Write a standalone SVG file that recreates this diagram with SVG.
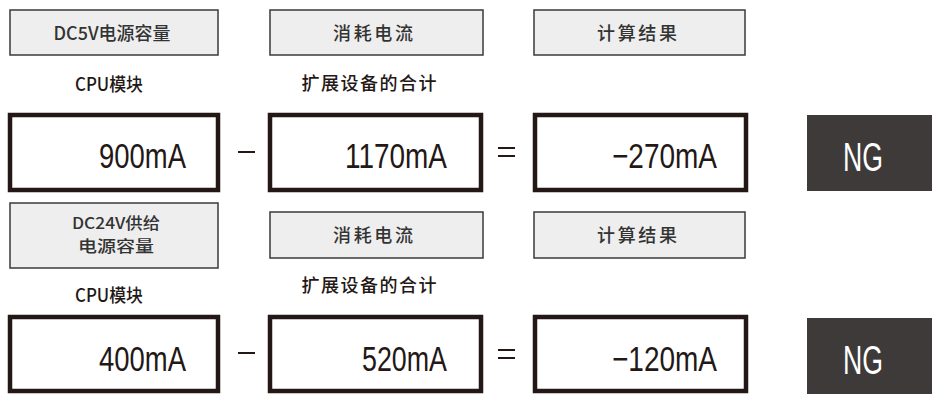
<svg xmlns="http://www.w3.org/2000/svg" width="932" height="394" viewBox="0 0 932 394">
<style>
.hdr{fill:#eeeeee;stroke:#3a3a3a;stroke-width:1.5}
.val{fill:#ffffff;stroke:#231815;stroke-width:4.5}
.ng{fill:#3e3a39}
.ht{font-family:"Noto Sans CJK SC",sans-serif;font-size:18px;fill:#333333;text-anchor:middle;font-weight:500}
.ht2{font-family:"Noto Sans CJK SC",sans-serif;font-size:16px;fill:#333333;text-anchor:middle;font-weight:500}
.lt{font-family:"Noto Sans CJK SC",sans-serif;font-size:18px;fill:#231815;text-anchor:middle;font-weight:500}
.vt{font-family:"Liberation Sans",sans-serif;font-size:35px;fill:#231815;text-anchor:end}
.nt{font-family:"Liberation Sans",sans-serif;font-size:40px;fill:#ffffff;text-anchor:middle}
.op{stroke:#231815;stroke-width:2;fill:none}
</style>
<rect width="932" height="394" fill="#ffffff"/>
<g id="row1">
<g id="h1"><rect class="hdr" x="10" y="10" width="208" height="45"/><text class="ht" x="112" y="40" textLength="117" lengthAdjust="spacingAndGlyphs">DC5V电源容量</text></g>
<g id="h2"><rect class="hdr" x="270" y="10" width="213" height="45"/><text class="ht" x="373" y="40" textLength="80" lengthAdjust="spacing">消耗电流</text></g>
<g id="h3"><rect class="hdr" x="534" y="10" width="211" height="45"/><text class="ht" x="637" y="40" textLength="80" lengthAdjust="spacing">计算结果</text></g>
<text class="lt" x="109" y="91" textLength="68" lengthAdjust="spacingAndGlyphs">CPU模块</text>
<text class="lt" x="369" y="90" textLength="135" lengthAdjust="spacing">扩展设备的合计</text>
<g id="v1"><rect class="val" x="10" y="115" width="208" height="75"/><text class="vt" x="186" y="168" textLength="87" lengthAdjust="spacingAndGlyphs">900mA</text></g>
<g id="v2"><rect class="val" x="270" y="115" width="211" height="75"/><text class="vt" x="447" y="168" textLength="102" lengthAdjust="spacingAndGlyphs">1170mA</text></g>
<g id="v3"><rect class="val" x="535" y="115" width="211" height="75"/><text class="vt" x="717" y="168" textLength="105" lengthAdjust="spacingAndGlyphs">−270mA</text></g>
<g id="ng1"><rect class="ng" x="807" y="115" width="125" height="76"/><text class="nt" x="863" y="171" textLength="40" lengthAdjust="spacingAndGlyphs">NG</text></g>
<path class="op" d="M238 152H255M498 148H515M498 156H515"/>
</g>
<g id="row2">
<g id="h4"><rect class="hdr" x="10" y="203" width="208" height="65"/><text class="ht2" x="116" y="229" textLength="88" lengthAdjust="spacingAndGlyphs">DC24V供给</text><text class="ht2" x="116" y="252" textLength="76" lengthAdjust="spacingAndGlyphs">电源容量</text></g>
<g id="h5"><rect class="hdr" x="270" y="212" width="213" height="46"/><text class="ht" x="373" y="242" textLength="80" lengthAdjust="spacing">消耗电流</text></g>
<g id="h6"><rect class="hdr" x="534" y="212" width="211" height="46"/><text class="ht" x="637" y="242" textLength="80" lengthAdjust="spacing">计算结果</text></g>
<text class="lt" x="109" y="302" textLength="68" lengthAdjust="spacingAndGlyphs">CPU模块</text>
<text class="lt" x="369" y="292" textLength="135" lengthAdjust="spacing">扩展设备的合计</text>
<g id="v4"><rect class="val" x="10" y="317" width="208" height="74"/><text class="vt" x="186" y="371" textLength="87" lengthAdjust="spacingAndGlyphs">400mA</text></g>
<g id="v5"><rect class="val" x="270" y="317" width="211" height="74"/><text class="vt" x="447" y="371" textLength="85" lengthAdjust="spacingAndGlyphs">520mA</text></g>
<g id="v6"><rect class="val" x="535" y="317" width="211" height="74"/><text class="vt" x="717" y="371" textLength="105" lengthAdjust="spacingAndGlyphs">−120mA</text></g>
<g id="ng2"><rect class="ng" x="807" y="318" width="125" height="76"/><text class="nt" x="863" y="374" textLength="40" lengthAdjust="spacingAndGlyphs">NG</text></g>
<path class="op" d="M238 353H255M498 350H515M498 358H515"/>
</g>
</svg>
